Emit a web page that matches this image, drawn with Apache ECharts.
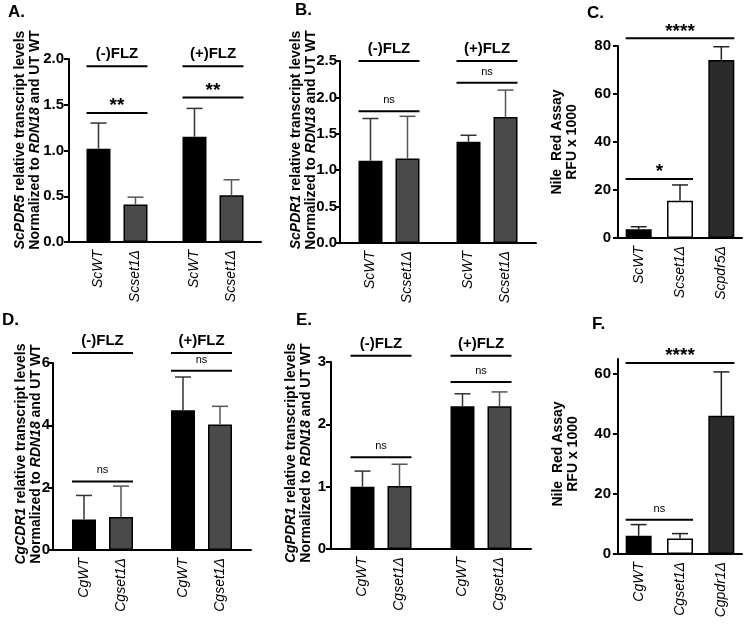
<!DOCTYPE html>
<html>
<head>
<meta charset="utf-8">
<script src="https://cdn.jsdelivr.net/npm/echarts@6/dist/echarts.min.js"></script>
<style>
html, body {margin: 0; padding: 0; background: #fff;}
#main {width: 750px; height: 624px;}
</style>
</head>
<body>
<div id="main"></div>
<script>
// ---- data ----
var groups = ['(-)FLZ', '(+)FLZ'];

// A. ScPDR5
var aLabels = ['ScWT', 'Scset1Δ'];
var aWT = [1.02, 1.15], aWTsd = [0.28, 0.31];
var aSet = [0.41, 0.51], aSetsd = [0.08, 0.17];
var aSig = [[0, 0, 1.92, '(-)FLZ'], [1, 1, 1.92, '(+)FLZ'], [0, 0, 1.41, '**'], [1, 1, 1.58, '**']];

// B. ScPDR1
var bWT = [1.13, 1.39], bWTsd = [0.58, 0.09];
var bSet = [1.16, 1.73], bSetsd = [0.58, 0.37];
var bSig = [[0, 0, 2.5, '(-)FLZ'], [1, 1, 2.5, '(+)FLZ'], [0, 0, 1.81, 'ns'], [1, 1, 2.2, 'ns']];

// C. Nile red, S. cerevisiae
var cLabels = ['ScWT', 'Scset1Δ', 'Scpdr5Δ'];
var cVals = [3.6, 15.5, 74.2], cSd = [1.1, 6.6, 5.5];
var cSig = [[0, 2, 83.2, '****'], [0, 1, 24.6, '*']];

// D. CgCDR1
var dLabels = ['CgWT', 'Cgset1Δ'];
var dWT = [0.98, 4.48], dWTsd = [0.77, 1.07];
var dSet = [1.06, 4.03], dSetsd = [0.99, 0.58];
var dSig = [[0, 0, 6.32, '(-)FLZ'], [1, 1, 6.32, '(+)FLZ'], [0, 0, 2.2, 'ns'], [1, 1, 5.75, 'ns']];

// E. CgPDR1
var eWT = [1.0, 2.29], eWTsd = [0.25, 0.2];
var eSet = [1.01, 2.29], eSetsd = [0.35, 0.23];
var eSig = [[0, 0, 3.1, '(-)FLZ'], [1, 1, 3.1, '(+)FLZ'], [0, 0, 1.47, 'ns'], [1, 1, 2.68, 'ns']];

// F. Nile red, C. glabrata
var fLabels = ['CgWT', 'Cgset1Δ', 'Cgpdr1Δ'];
var fVals = [6.1, 5.2, 46.1], fSd = [3.7, 1.6, 14.6];
var fSig = [[0, 2, 63.7, '****'], [0, 1, 11.4, 'ns']];
var fTicks = [0, 20, 40, 60];

// ---- styling ----
var FONT = '"Liberation Sans", Arial, sans-serif';
var BAR_W = 24, GAP = 13, OFF = (BAR_W + GAP) / 2;
var GRAY = '#4a4a4a';
var TEXT = {
	head: {font: 'bold 15px ' + FONT, dy: 12},
	star: {font: 'bold 19px ' + FONT, dy: 7},
	ns: {font: '11px ' + FONT, dy: 11}
};

var option = {animation: false, backgroundColor: '#fff', grid: [], xAxis: [], yAxis: [], series: [], graphic: []};

function axes(k, p) {
	option.grid.push(p.grid);
	option.xAxis.push({
		type: 'category', gridIndex: k, data: p.cats,
		axisLine: {lineStyle: {color: '#000', width: 2}},
		axisTick: {show: false},
		axisLabel: p.grouped ? {show: false} : {
			rotate: 90, margin: 8, fontSize: 14, fontStyle: 'italic', color: '#000', fontFamily: FONT, interval: 0
		}
	});
	var yl = {color: '#000', fontSize: 15, fontWeight: 'bold', fontFamily: FONT, margin: p.margin,
		formatter: function (v) { return v.toFixed(p.dec); }};
	var yt = {show: true, length: 5, lineStyle: {color: '#000', width: 2}};
	if (p.ticks) { yl.customValues = p.ticks; yt.customValues = p.ticks; }
	option.yAxis.push({
		type: 'value', gridIndex: k, min: 0, max: p.max, interval: p.step,
		axisLine: {show: true, lineStyle: {color: '#000', width: 2}},
		axisTick: yt, axisLabel: yl, splitLine: {show: false}
	});
}

function bar(k, data, color, name) {
	return {
		type: 'bar', xAxisIndex: k, yAxisIndex: k, data: data,
		barWidth: BAR_W, barGap: (GAP / BAR_W * 100) + '%',
		itemStyle: {color: color, borderColor: '#000', borderWidth: 1.5},
		label: {show: true, position: 'bottom', distance: 8, rotate: 90, align: 'right', verticalAlign: 'middle',
			formatter: name, fontSize: 14, fontStyle: 'italic', fontFamily: FONT, color: '#000'}
	};
}

function errBars(k, means, sds, off, color) {
	return {
		type: 'custom', xAxisIndex: k, yAxisIndex: k, z: 3,
		data: means.map(function (m, i) { return [i, m, sds[i]]; }),
		encode: {x: 0, y: 1},
		renderItem: function (params, api) {
			var i = api.value(0), m = api.value(1), s = api.value(2);
			var b = api.coord([i, m]), t = api.coord([i, m + s]);
			var x = b[0] + off;
			var st = {stroke: color, lineWidth: 1.5};
			return {type: 'group', children: [
				{type: 'line', shape: {x1: x, y1: b[1], x2: x, y2: t[1]}, style: st},
				{type: 'line', shape: {x1: x - 8, y1: t[1], x2: x + 8, y2: t[1]}, style: st}
			]};
		}
	};
}

function sigLines(k, sig, half) {
	return {
		type: 'custom', xAxisIndex: k, yAxisIndex: k, z: 4, clip: false,
		data: sig.map(function (s) { return [s[0], s[1], s[2]]; }),
		encode: {x: [0, 1], y: 2},
		renderItem: function (params, api) {
			var s = sig[params.dataIndex];
			var p1 = api.coord([s[0], s[2]]), p2 = api.coord([s[1], s[2]]);
			var ts = s[3] === 'ns' ? TEXT.ns : (s[3].charAt(0) === '*' ? TEXT.star : TEXT.head);
			return {type: 'group', children: [
				{type: 'line', shape: {x1: p1[0] - half, y1: p1[1], x2: p2[0] + half, y2: p1[1]},
					style: {stroke: '#000', lineWidth: 2}},
				{type: 'text', x: (p1[0] + p2[0]) / 2, y: p1[1] - ts.dy,
					style: {text: s[3], font: ts.font, fill: '#000', align: 'center', verticalAlign: 'middle',
						textAlign: 'center', textVerticalAlign: 'middle'}}
			]};
		}
	};
}

function grouped(k, p, labels, wt, wtsd, set, setsd, sig) {
	p.grouped = true;
	p.cats = groups;
	axes(k, p);
	option.series.push(
		bar(k, wt, '#000', labels[0]),
		bar(k, set, GRAY, labels[1]),
		errBars(k, wt, wtsd, -OFF, '#333'),
		errBars(k, set, setsd, OFF, '#555'),
		sigLines(k, sig, OFF + BAR_W / 2)
	);
}

function triple(k, p, labels, vals, sd, sig) {
	var colors = ['#000', '#fff', '#2b2b2b'];
	p.cats = labels;
	axes(k, p);
	option.series.push(
		{type: 'bar', xAxisIndex: k, yAxisIndex: k, barWidth: 26,
			data: vals.map(function (v, i) { return {value: v, itemStyle: {color: colors[i]}}; }),
			itemStyle: {borderColor: '#000', borderWidth: 1.5}},
		errBars(k, vals, sd, 0, '#222'),
		sigLines(k, sig, 13)
	);
}

grouped(0, {grid: {left: 69, top: 59, width: 192, height: 183}, max: 2, step: 0.5, dec: 1, margin: 5},
	aLabels, aWT, aWTsd, aSet, aSetsd, aSig);
grouped(1, {grid: {left: 340, top: 61, width: 196, height: 182}, max: 2.5, step: 0.5, dec: 1, margin: 3},
	aLabels, bWT, bWTsd, bSet, bSetsd, bSig);
triple(2, {grid: {left: 618, top: 46, width: 124, height: 192}, max: 80, step: 20, dec: 0, margin: 7},
	cLabels, cVals, cSd, cSig);
grouped(3, {grid: {left: 53, top: 363, width: 198, height: 187}, max: 6, step: 2, dec: 0, margin: 3},
	dLabels, dWT, dWTsd, dSet, dSetsd, dSig);
grouped(4, {grid: {left: 331, top: 362, width: 200, height: 187}, max: 3, step: 1, dec: 0, margin: 5},
	dLabels, eWT, eWTsd, eSet, eSetsd, eSig);
triple(5, {grid: {left: 618, top: 359, width: 124, height: 195}, max: 65, step: 20, dec: 0, margin: 7, ticks: fTicks},
	fLabels, fVals, fSd, fSig);

// ---- titles & panel letters ----
var RICH = {
	b: {fontWeight: 'bold', fontSize: 14, fontFamily: FONT, lineHeight: 15, color: '#000'},
	bi: {fontWeight: 'bold', fontStyle: 'italic', fontSize: 14, fontFamily: FONT, lineHeight: 15, color: '#000'}
};
function yTitle(x, y, lines) {
	option.graphic.push({type: 'text', x: x, y: y, rotation: Math.PI / 2,
		style: {text: lines.join('\n'), rich: RICH, font: 'bold 14px ' + FONT, lineHeight: 15, fill: '#000',
			align: 'center', verticalAlign: 'middle', textAlign: 'center', textVerticalAlign: 'middle'}});
}
function letter(x, y, t) {
	option.graphic.push({type: 'text', x: x, y: y,
		style: {text: t, font: 'bold 17px ' + FONT, fill: '#000', align: 'left', verticalAlign: 'top',
			textAlign: 'left', textVerticalAlign: 'top'}});
}
var norm = '{b|Normalized to }{bi|RDN18}{b| and UT WT}';
yTitle(27.5, 140, ['{bi|ScPDR5}{b| relative transcript levels}', norm]);
yTitle(304, 140, ['{bi|ScPDR1}{b| relative transcript levels}', norm]);
yTitle(564.5, 142, ['{b|Nile  Red Assay}', '{b|RFU x 1000}']);
yTitle(29, 454, ['{bi|CgCDR1}{b| relative transcript levels}', norm]);
yTitle(298.5, 453, ['{bi|CgPDR1}{b| relative transcript levels}', norm]);
yTitle(565.5, 454, ['{b|Nile  Red Assay}', '{b|RFU x 1000}']);
letter(8, 4, 'A.');
letter(295, 2, 'B.');
letter(587, 5, 'C.');
letter(2, 312, 'D.');
letter(296, 312, 'E.');
letter(592, 316, 'F.');

var chart = echarts.init(document.getElementById('main'), null, {renderer: 'canvas'});
chart.setOption(option);
</script>
</body>
</html>
